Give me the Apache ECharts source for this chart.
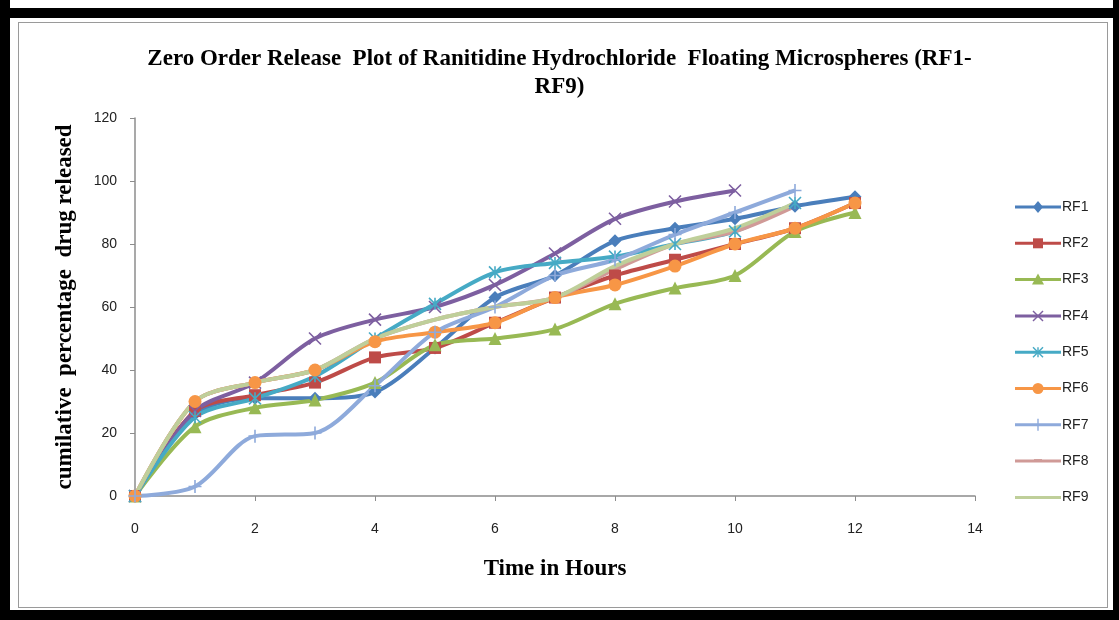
<!DOCTYPE html>
<html>
<head>
<meta charset="utf-8">
<title>Zero Order Release Plot</title>
<script src="https://cdn.jsdelivr.net/npm/echarts@6/dist/echarts.min.js"></script>
<style>
  html, body { margin: 0; padding: 0; background: #fff; }
  .page { position: relative; width: 1119px; height: 620px; overflow: hidden; background: #fff; }
  .bar { position: absolute; background: #000; }
  .frame { position: absolute; left: 18px; top: 22px; width: 1088px; height: 584px; border: 1px solid #9a9a9a; }
  #chart { position: absolute; left: 0; top: 0; width: 1119px; height: 620px; }
</style>
</head>
<body>
<div class="page">
  <div class="frame"></div>
  <div id="chart"></div>
  <!-- black picture border -->
  <div class="bar" style="left:0;top:8px;width:1119px;height:10px"></div>
  <div class="bar" style="left:0;top:0;width:10px;height:620px"></div>
  <div class="bar" style="left:0;top:610px;width:1119px;height:10px"></div>
  <div class="bar" style="left:1113px;top:0;width:6px;height:620px"></div>
</div>
<script>
// time in hours
const hours = [0, 1, 2, 3, 4, 5, 6, 7, 8, 9, 10, 11, 12]
// cumulative % drug released
const rf1 = [0, 26, 31, 31, 33, 47, 63, 70, 81, 85, 88, 92, 95]
const rf2 = [0, 27, 32, 36, 44, 47, 55, 63, 70, 75, 80, 85, 93]
const rf3 = [0, 22, 28, 30.5, 36, 48, 50, 53, 61, 66, 70, 84, 90]
const rf4 = [0, 27, 36, 50, 56, 60, 67, 77, 88, 93.5, 97]
const rf5 = [0, 25, 31, 38, 50, 61, 71, 74, 76, 80, 84, 93]
const rf6 = [0, 30, 36, 40, 49, 52, 55, 63, 67, 73, 80, 85, 93]
const rf7 = [0, 3, 19, 20, 35, 52, 60, 70, 75, 83, 90, 97]
const rf8 = [0, 30, 36, 40, 50, 56, 60, 63, 72, 80, 84, 92]
const rf9 = [0, 30, 36, 40, 50, 56, 60, 63, 73, 80, 85, 93]

const seriesNames = ['RF1', 'RF2', 'RF3', 'RF4', 'RF5', 'RF6', 'RF7', 'RF8', 'RF9']
const seriesColors = ['#4a7ebb', '#be4b48', '#98b954', '#7d5fa0', '#46aac5', '#f79646', '#8eaadb', '#d09a97', '#bfcf9a']
const xTicks = [0, 2, 4, 6, 8, 10, 12, 14]
const yTicks = [0, 20, 40, 60, 80, 100, 120]

// excel-like marker shapes
const markX = 'path://M0,0L10,10M10,0L0,10'
const markStar = 'path://M0,0L10,10M10,0L0,10M5,0L5,10'
const markPlus = 'path://M5,0L5,12M1,6L9,6'
const markDash = 'path://M0,5L10,5'

function pairs (vals) {
  return vals.map((v, i) => [hours[i], v])
}

function makeSeries (idx, vals, symbol, size, stroke) {
  const color = seriesColors[idx]
  return {
    name: seriesNames[idx],
    type: 'line',
    data: pairs(vals),
    smooth: 0.3,
    symbol: symbol,
    symbolSize: size,
    lineStyle: { color: color, width: 4 },
    itemStyle: stroke
      ? { color: color, borderColor: color, borderWidth: 1.6 }
      : { color: color, borderColor: color, borderWidth: 0 }
  }
}

// legend drawn by hand (built-in legend misbehaves here)
function legendMarker (kind, cx, cy, color) {
  const s = 5
  const strokeStyle = { stroke: color, lineWidth: 1.4, fill: null }
  switch (kind) {
    case 'diamond':
      return [{ type: 'polygon', shape: { points: [[cx, cy - s - 1], [cx + s, cy], [cx, cy + s + 1], [cx - s, cy]] }, style: { fill: color } }]
    case 'rect':
      return [{ type: 'rect', shape: { x: cx - s, y: cy - s, width: 2 * s, height: 2 * s }, style: { fill: color } }]
    case 'triangle':
      return [{ type: 'polygon', shape: { points: [[cx, cy - s - 1], [cx + s + 1, cy + s], [cx - s - 1, cy + s]] }, style: { fill: color } }]
    case 'x':
      return [
        { type: 'line', shape: { x1: cx - s, y1: cy - s, x2: cx + s, y2: cy + s }, style: strokeStyle },
        { type: 'line', shape: { x1: cx + s, y1: cy - s, x2: cx - s, y2: cy + s }, style: strokeStyle }
      ]
    case 'star':
      return [
        { type: 'line', shape: { x1: cx - s, y1: cy - s, x2: cx + s, y2: cy + s }, style: strokeStyle },
        { type: 'line', shape: { x1: cx + s, y1: cy - s, x2: cx - s, y2: cy + s }, style: strokeStyle },
        { type: 'line', shape: { x1: cx, y1: cy - s, x2: cx, y2: cy + s }, style: strokeStyle }
      ]
    case 'circle':
      return [{ type: 'circle', shape: { cx: cx, cy: cy, r: s + 0.5 }, style: { fill: color } }]
    case 'plus':
      return [{ type: 'line', shape: { x1: cx, y1: cy - s - 1, x2: cx, y2: cy + s + 1 }, style: strokeStyle }]
    case 'dash':
      return [{ type: 'line', shape: { x1: cx - 4, y1: cy - 1, x2: cx + 4, y2: cy - 1 }, style: { stroke: color, lineWidth: 2 } }]
    default:
      return []
  }
}

const legendKinds = ['diamond', 'rect', 'triangle', 'x', 'star', 'circle', 'plus', 'dash', 'none']
const legendLeft = 1015
const legendTop = 207
const legendStep = 36.3
const legendItems = []
seriesNames.forEach((name, i) => {
  const y = legendTop + i * legendStep
  const color = seriesColors[i]
  legendItems.push({ type: 'line', shape: { x1: legendLeft, y1: y, x2: legendLeft + 46, y2: y }, style: { stroke: color, lineWidth: 3 } })
  legendMarker(legendKinds[i], legendLeft + 23, y, color).forEach(m => legendItems.push(m))
  legendItems.push({
    type: 'text',
    x: legendLeft + 47,
    y: y,
    style: { text: name, fill: '#222', fontFamily: 'Liberation Sans', fontSize: 14, verticalAlign: 'middle', align: 'left' }
  })
})

const chart = echarts.init(document.getElementById('chart'), null, { renderer: 'canvas' })

chart.setOption({
  animation: false,
  title: {
    text: 'Zero Order Release  Plot of Ranitidine Hydrochloride  Floating Microspheres (RF1-\nRF9)',
    left: 'center',
    top: 40,
    textStyle: {
      fontFamily: 'Liberation Serif',
      fontWeight: 'bold',
      fontSize: 23,
      lineHeight: 28,
      color: '#000'
    }
  },
  grid: { left: 135, right: 144, top: 118, bottom: 124 },
  legend: { show: false },
  graphic: legendItems,
  xAxis: {
    type: 'value',
    min: xTicks[0],
    max: xTicks[xTicks.length - 1],
    interval: 2,
    name: 'Time in Hours',
    nameLocation: 'middle',
    nameGap: 62,
    nameTextStyle: { fontFamily: 'Liberation Serif', fontWeight: 'bold', fontSize: 23, color: '#000' },
    axisLine: { lineStyle: { color: '#8c8c8c', width: 1.5 } },
    axisTick: { show: true, length: 5, lineStyle: { color: '#8c8c8c' } },
    axisLabel: { fontFamily: 'Liberation Sans', fontSize: 14, color: '#222', margin: 26 },
    splitLine: { show: false }
  },
  yAxis: {
    type: 'value',
    min: yTicks[0],
    max: yTicks[yTicks.length - 1],
    interval: 20,
    name: 'cumilative  percentage  drug released',
    nameLocation: 'middle',
    nameGap: 58,
    nameTextStyle: { fontFamily: 'Liberation Serif', fontWeight: 'bold', fontSize: 23, color: '#000' },
    axisLine: { show: true, lineStyle: { color: '#8c8c8c', width: 1.5 } },
    axisTick: { show: true, length: 5, lineStyle: { color: '#8c8c8c' } },
    axisLabel: { fontFamily: 'Liberation Sans', fontSize: 14, color: '#222', margin: 18 },
    splitLine: { show: false }
  },
  series: [
    makeSeries(0, rf1, 'diamond', 13, false),
    makeSeries(1, rf2, 'rect', 12, false),
    makeSeries(2, rf3, 'triangle', 13, false),
    makeSeries(3, rf4, markX, 12, true),
    makeSeries(4, rf5, markStar, 12, true),
    makeSeries(5, rf6, 'circle', 13, false),
    makeSeries(6, rf7, markPlus, 13, true),
    makeSeries(7, rf8, markDash, 10, true),
    makeSeries(8, rf9, 'none', 8, false)
  ]
})
</script>
</body>
</html>
